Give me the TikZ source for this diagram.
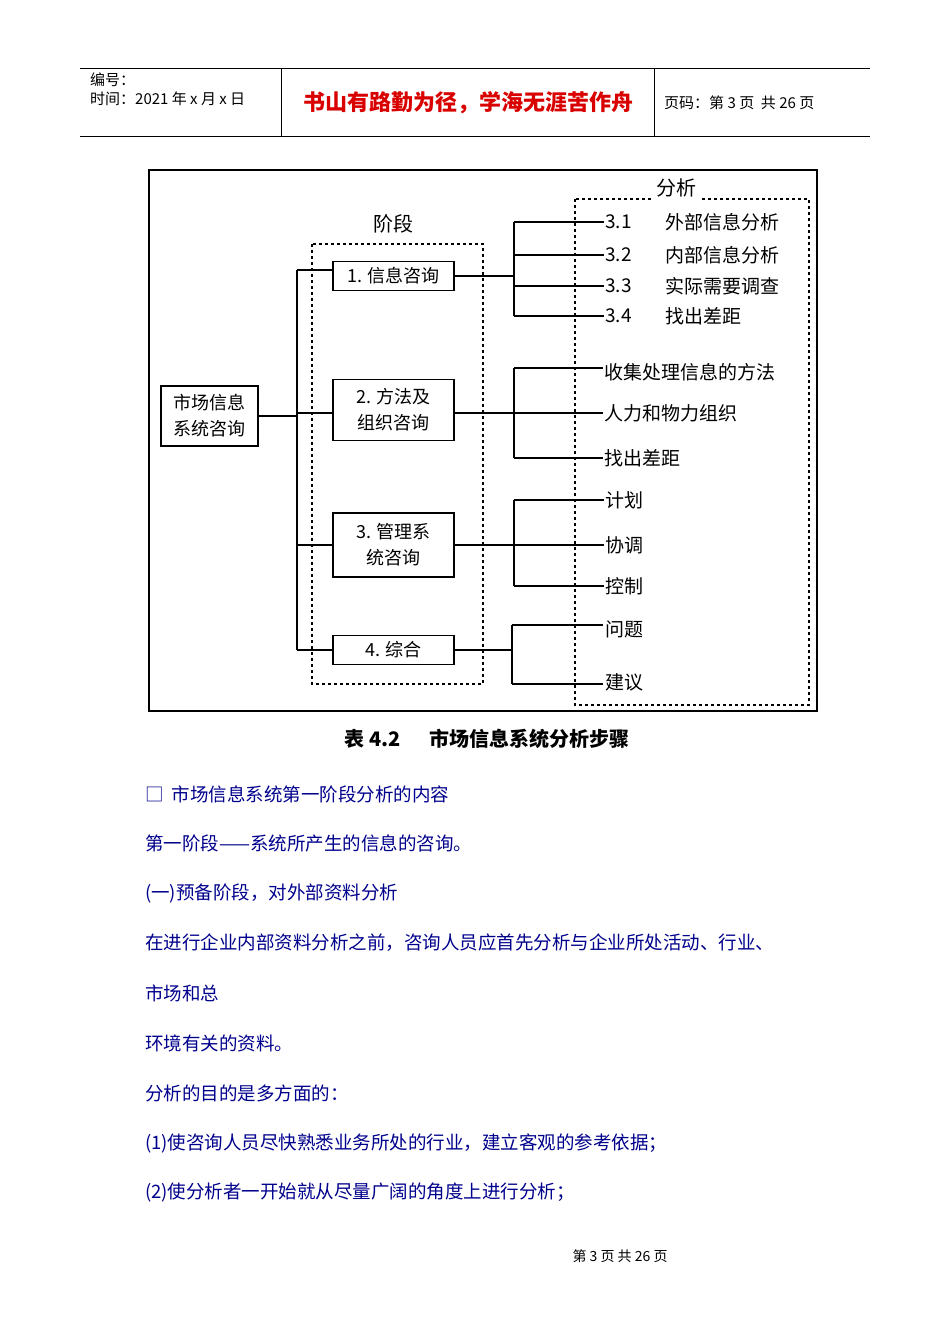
\documentclass[tikz,border=0pt]{standalone}
\usepackage{fontspec}
\newfontfamily\cjk{Noto Sans CJK SC}
\begin{document}
\begin{tikzpicture}[x=1pt,y=-1pt,font=\cjk,
  bx/.style={draw,line width=1.2pt,align=center,inner sep=2pt,font=\cjk\fontsize{18}{26}\selectfont},
  lab/.style={anchor=west,font=\cjk\fontsize{19}{22}\selectfont,inner sep=1pt},
  body/.style={anchor=west,font=\cjk\fontsize{18.5}{22}\selectfont,text=blue!55!black,inner sep=0pt},
  ln/.style={line width=1.1pt}]
\useasboundingbox (0,0) rectangle (950,1344);
% header
\draw[line width=0.6pt] (80,68) -- (870,68) (80,136) -- (870,136) (281,68) -- (281,136) (654,68) -- (654,136);
\node[anchor=west,font=\cjk\fontsize{15}{17}\selectfont,inner sep=0] (h1) at (90,80) {编号：};
\node[anchor=west,font=\cjk\fontsize{15}{17}\selectfont,inner sep=0] (h2) at (90,99) {时间：2021 年 x 月 x 日};
\node[font=\cjk\bfseries\fontsize{22}{26}\selectfont,text=red!85!black] (h3) at (468,103) {书山有路勤为径，学海无涯苦作舟};
\node[anchor=west,font=\cjk\fontsize{15}{17}\selectfont,inner sep=0] (h4) at (664,103) {页码：第 3 页\ \ 共 26 页};
% frame
\draw[line width=2pt] (149,170) rectangle (817,711);
\draw[dashed,line width=1.2pt] (312,244) rectangle (483,684);
\draw[dashed,line width=1.2pt] (575,199) rectangle (809,705);
\node[fill=white,font=\cjk\fontsize{20}{22}\selectfont] (fx) at (676,188) {分析};
\node[font=\cjk\fontsize{20}{22}\selectfont] (jd) at (393,224) {阶段};
% boxes
\node[bx,minimum width=97,minimum height=60] (m) at (209.5,416) {市场信息\\系统咨询};
\node[bx,minimum width=121,minimum height=29] (b1) at (393.5,276) {1. 信息咨询};
\node[bx,minimum width=121,minimum height=61] (b2) at (393.5,410) {2. 方法及\\组织咨询};
\node[bx,minimum width=121,minimum height=64] (b3) at (393.5,545) {3. 管理系\\统咨询};
\node[bx,minimum width=121,minimum height=29] (b4) at (393.5,650) {4. 综合};
% left connectors
\coordinate (t) at (297,270); \coordinate (bt) at (297,650);
\draw[ln] (t) -- (bt);
\draw[ln] (m.east) -- (297,416);
\draw[ln] (t) -- (t -| b1.west);
\draw[ln] (297,413) -- (297,413 -| b2.west);
\draw[ln] (297,545) -- (b3.west);
\draw[ln] (bt) -- (b4.west);
% right labels
\foreach \y/\n/\t [count=\i] in {222/3.1/外部信息分析,255/3.2/内部信息分析,286/3.3/实际需要调查,316/3.4/找出差距}{
  \node[lab] (a\i) at (604,\y) {\n};
  \node[lab] (aa\i) at (664,\y) {\t};}
\draw[ln] (b1.east) -- (514,276) (514,222) -- (514,316);
\foreach \i/\y in {1/222,2/255,3/286,4/316} \draw[ln] (514,\y) -- (a\i.west);
\node[lab] (c1) at (603,372) {收集处理信息的方法};
\node[lab] (c2) at (603,413) {人力和物力组织};
\node[lab] (c3) at (603,458) {找出差距};
\draw[ln] (b2.east |- 0,413) -- (514,413) (514,368) -- (514,458);
\foreach \i/\y in {1/368,2/413,3/458} \draw[ln] (514,\y) -- (603,\y);
\node[lab] (d1) at (604,500) {计划};
\node[lab] (d2) at (604,545) {协调};
\node[lab] (d3) at (604,586) {控制};
\draw[ln] (b3.east) -- (514,545) (514,500) -- (514,586);
\foreach \i/\y in {1/500,2/545,3/586} \draw[ln] (514,\y) -- (d\i.west);
\node[lab] (e1) at (604,629) {问题};
\node[lab] (e2) at (604,682) {建议};
\draw[ln] (b4.east) -- (512,650) (512,625) -- (512,684);
\draw[ln] (512,625) -- (603,625) (512,684) -- (603,684);
\node[font=\cjk\bfseries\fontsize{20}{22}\selectfont] (cap) at (487,739) {表 4.2\quad\ \ 市场信息系统分析步骤};
% body
\node[body] (p1) at (145,794) {□\ \ 市场信息系统第一阶段分析的内容};
\node[body] (p2) at (145,843) {第一阶段——系统所产生的信息的咨询。};
\node[body] (p3) at (145,893) {(一)预备阶段，对外部资料分析};
\node[body] (p4) at (145,943) {在进行企业内部资料分析之前，咨询人员应首先分析与企业所处活动、行业、};
\node[body] (p5) at (145,993) {市场和总};
\node[body] (p6) at (145,1043) {环境有关的资料。};
\node[body] (p7) at (145,1093) {分析的目的是多方面的：};
\node[body] (p8) at (145,1143) {(1)使咨询人员尽快熟悉业务所处的行业，建立客观的参考依据；};
\node[body] (p9) at (145,1192) {(2)使分析者一开始就从尽量广阔的角度上进行分析；};
\node[font=\cjk\fontsize{14}{16}\selectfont] (ft) at (620,1256) {第 3 页 共 26 页};
\end{tikzpicture}
\end{document}
